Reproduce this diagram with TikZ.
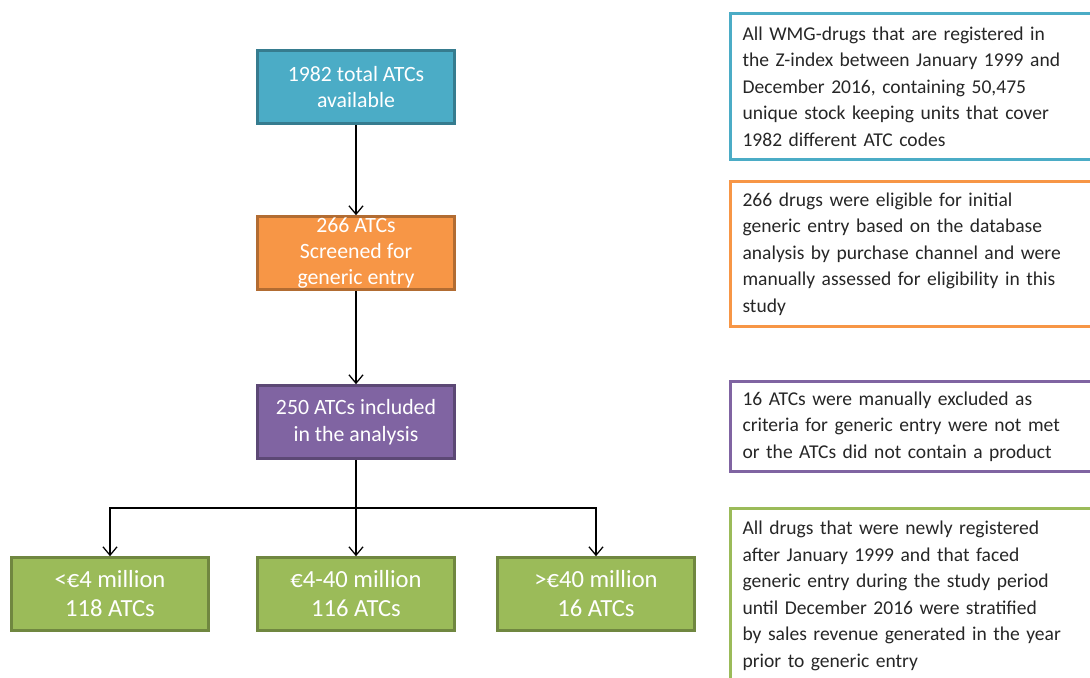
\documentclass[tikz,border=0pt]{standalone}
\usepackage{fontspec}
\setmainfont{Carlito}
\usetikzlibrary{positioning, arrows.meta}
\definecolor{atc teal}{HTML}{4BACC6}
\definecolor{atc orange}{HTML}{F79646}
\definecolor{atc purple}{HTML}{8064A2}
\definecolor{atc green}{HTML}{9BBB59}
\definecolor{note text}{HTML}{262626}

\begin{document}
\begin{tikzpicture}[x=0.025cm, y=-0.025cm, line width=0.9pt,
    stage/.style={draw=#1!72!black, fill=#1, line width=1.8pt, minimum width=4.925cm,
        minimum height=1.825cm, inner sep=0pt, align=center, text=white,
        font=\fontsize{15.5}{17.8}\selectfont},
    note/.style={draw=#1, line width=2.2pt, anchor=north west, text width=9.6cm,
        inner xsep=0.3cm, inner ysep=0pt, align=left, text=note text,
        font=\fontsize{13.9}{18.85}\selectfont},
    >={Straight Barb[length=6pt,width=10pt]}]
    \clip (0,0) rectangle (1090,677);
    % flow on the left
    \node[stage=atc teal] (total) at (356,87) {1982 total ATCs\\available};
    \node[stage=atc orange, font=\fontsize{15.5}{18.5}\selectfont] (screen) at (356,253) {266 ATCs\\Screened for\\generic entry};
    \node[stage=atc purple, font=\fontsize{15.5}{19.2}\selectfont] (incl) at (356,422) {250 ATCs included\\in the analysis};
    \foreach \x/\name/\lbl in {110/low/{<€4 million\\118 ATCs}, 356/mid/{€4-40 million\\116 ATCs}, 596/high/{>€40 million\\16 ATCs}}{
	\node[stage=atc green, font=\fontsize{17.5}{20.6}\selectfont] (\name) at (\x,594) {\lbl};
	};
    \coordinate (split) at (356,508);
    \draw[->] (total) -- (screen);
    \draw[->] (screen) -- (incl);
    \draw (incl) -- (split);
    \foreach \name in {low,mid,high}{
	\draw[->] (split) -| (\name);
	};
    % notes on the right
    \node[note=atc teal, minimum height=3.65cm] (n1) at (729,12) {All WMG-drugs that are registered in\\the Z-index between January 1999 and\\December 2016, containing 50,475\\unique stock keeping units that cover\\1982 different ATC codes};
    \node[note=atc orange, minimum height=3.625cm] (n2) at (729,180) {266 drugs were eligible for initial\\generic entry based on the database\\analysis by purchase channel and were\\manually assessed for eligibility in this\\study};
    \node[note=atc purple, minimum height=2.25cm] (n3) at (729,380) {16 ATCs were manually excluded as\\criteria for generic entry were not met\\or the ATCs did not contain a product};
    \node[note=atc green, minimum height=4.375cm] (n4) at (729,507) {All drugs that were newly registered\\after January 1999 and that faced\\generic entry during the study period\\until December 2016 were stratified\\by sales revenue generated in the year\\prior to generic entry};
\end{tikzpicture}
\end{document}
